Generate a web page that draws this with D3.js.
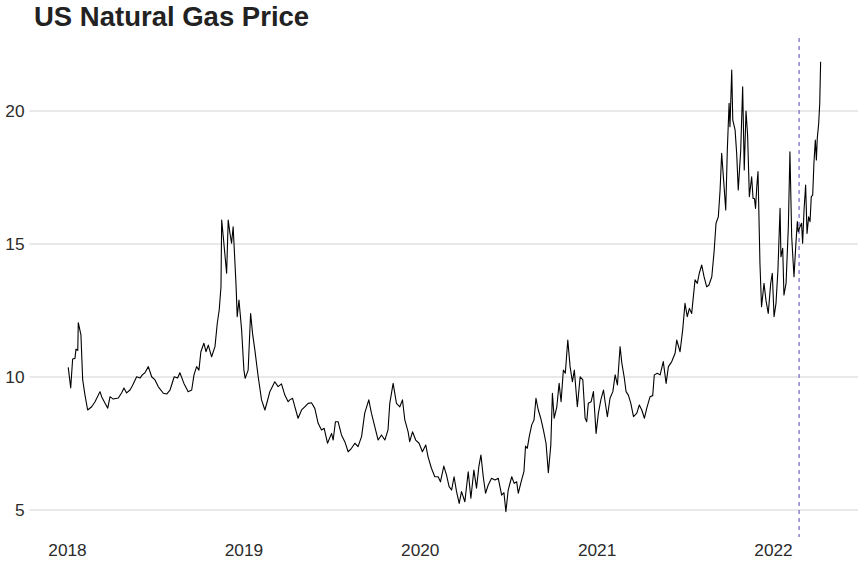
<!DOCTYPE html>
<html>
<head>
<meta charset="utf-8">
<script src="https://cdn.jsdelivr.net/npm/d3@7"></script>
<style>
  body { margin: 0; background: #fff; }
  svg { display: block; font-family: "Liberation Sans", Arial, sans-serif; }
</style>
</head>
<body>
<svg id="chart" width="864" height="576"></svg>
<script>
// time as decimal year, price
var times = [
  2018.007, 2018.021, 2018.032, 2018.045, 2018.051, 2018.061, 2018.064, 2018.079, 2018.089, 2018.102,
  2018.117, 2018.140, 2018.159, 2018.187, 2018.197, 2018.215, 2018.231, 2018.244, 2018.262, 2018.291,
  2018.310, 2018.323, 2018.338, 2018.357, 2018.370, 2018.395, 2018.414, 2018.427, 2018.442, 2018.461,
  2018.480, 2018.499, 2018.517, 2018.546, 2018.565, 2018.584, 2018.608, 2018.627, 2018.640, 2018.663,
  2018.687, 2018.707, 2018.720, 2018.735, 2018.748, 2018.759, 2018.776, 2018.788, 2018.801, 2018.820,
  2018.839, 2018.852, 2018.863, 2018.873, 2018.877, 2018.886, 2018.905, 2018.914, 2018.924, 2018.933,
  2018.942, 2018.958, 2018.965, 2018.975, 2018.980, 2018.990, 2019.003, 2019.010, 2019.027, 2019.041,
  2019.052, 2019.065, 2019.084, 2019.103, 2019.122, 2019.135, 2019.150, 2019.178, 2019.197, 2019.216,
  2019.235, 2019.254, 2019.263, 2019.279, 2019.292, 2019.310, 2019.330, 2019.348, 2019.367, 2019.386,
  2019.405, 2019.424, 2019.443, 2019.458, 2019.477, 2019.500, 2019.509, 2019.522, 2019.537, 2019.556,
  2019.575, 2019.594, 2019.613, 2019.632, 2019.650, 2019.670, 2019.688, 2019.711, 2019.726, 2019.745,
  2019.764, 2019.783, 2019.802, 2019.820, 2019.830, 2019.849, 2019.868, 2019.887, 2019.902, 2019.915,
  2019.934, 2019.943, 2019.959, 2019.977, 2019.996, 2020.015, 2020.034, 2020.047, 2020.066, 2020.085,
  2020.104, 2020.117, 2020.136, 2020.151, 2020.166, 2020.180, 2020.194, 2020.208, 2020.223, 2020.236,
  2020.255, 2020.274, 2020.289, 2020.306, 2020.321, 2020.334, 2020.346, 2020.359, 2020.372, 2020.387,
  2020.406, 2020.425, 2020.444, 2020.463, 2020.476, 2020.487, 2020.500, 2020.520, 2020.534, 2020.548,
  2020.557, 2020.576, 2020.589, 2020.598, 2020.608, 2020.619, 2020.633, 2020.646, 2020.657, 2020.670,
  2020.684, 2020.699, 2020.714, 2020.727, 2020.741, 2020.750, 2020.760, 2020.775, 2020.788, 2020.799,
  2020.812, 2020.823, 2020.837, 2020.850, 2020.863, 2020.874, 2020.891, 2020.907, 2020.922, 2020.935,
  2020.944, 2020.953, 2020.969, 2020.982, 2020.997, 2021.010, 2021.024, 2021.039, 2021.048, 2021.061,
  2021.076, 2021.092, 2021.105, 2021.118, 2021.133, 2021.143, 2021.156, 2021.167, 2021.180, 2021.194,
  2021.209, 2021.228, 2021.242, 2021.256, 2021.271, 2021.284, 2021.303, 2021.318, 2021.327, 2021.344,
  2021.360, 2021.378, 2021.394, 2021.407, 2021.426, 2021.445, 2021.454, 2021.473, 2021.488, 2021.501,
  2021.514, 2021.526, 2021.539, 2021.558, 2021.571, 2021.582, 2021.596, 2021.609, 2021.624, 2021.637,
  2021.653, 2021.666, 2021.677, 2021.690, 2021.700, 2021.709, 2021.718, 2021.732, 2021.741, 2021.751,
  2021.756, 2021.766, 2021.772, 2021.785, 2021.794, 2021.803, 2021.817, 2021.828, 2021.837, 2021.847,
  2021.856, 2021.866, 2021.879, 2021.887, 2021.895, 2021.901, 2021.908, 2021.915, 2021.926, 2021.935,
  2021.949, 2021.960, 2021.973, 2021.987, 2021.996, 2022.006, 2022.017, 2022.028, 2022.040, 2022.045,
  2022.055, 2022.062, 2022.074, 2022.087, 2022.096, 2022.106, 2022.119, 2022.130, 2022.138, 2022.143,
  2022.153, 2022.162, 2022.168, 2022.176, 2022.185, 2022.193, 2022.202, 2022.210, 2022.217, 2022.225,
  2022.232, 2022.240, 2022.246, 2022.251, 2022.259, 2022.265, 2022.270
]
var prices = [
  10.36, 9.59, 10.68, 10.70, 11.05, 11.00, 12.04, 11.58, 9.89, 9.32,
  8.76, 8.88, 9.07, 9.45, 9.25, 9.02, 8.83, 9.26, 9.17, 9.21,
  9.41, 9.59, 9.40, 9.51, 9.66, 10.01, 9.96, 10.08, 10.16, 10.39,
  10.01, 9.89, 9.64, 9.39, 9.36, 9.51, 10.01, 9.96, 10.16, 9.76,
  9.45, 9.51, 10.08, 10.39, 10.26, 10.95, 11.27, 10.95, 11.20, 10.76,
  11.14, 12.02, 12.52, 13.39, 15.90, 15.27, 13.90, 15.90, 15.40, 15.03,
  15.65, 13.52, 12.27, 12.89, 12.52, 11.77, 10.26, 9.95, 10.26, 12.39,
  11.64, 11.02, 10.01, 9.14, 8.76, 9.07, 9.45, 9.82, 9.64, 9.74,
  9.32, 9.07, 9.14, 9.20, 8.88, 8.45, 8.76, 8.88, 9.01, 9.03,
  8.82, 8.26, 8.01, 8.07, 7.51, 7.88, 7.63, 8.32, 8.32, 7.82,
  7.57, 7.19, 7.32, 7.51, 7.38, 7.76, 8.64, 9.14, 8.64, 8.13,
  7.63, 7.82, 7.63, 8.01, 9.01, 9.76, 9.01, 8.88, 9.14, 8.40,
  7.94, 7.57, 7.94, 7.63, 7.51, 7.19, 7.44, 7.00, 6.57, 6.25,
  6.25, 6.06, 6.65, 6.32, 5.88, 5.75, 6.25, 5.69, 5.25, 5.69,
  5.31, 6.44, 5.44, 6.50, 5.82, 6.63, 7.07, 6.25, 5.63, 5.94,
  6.19, 6.13, 6.19, 5.56, 5.65, 4.94, 5.75, 6.25, 6.00, 6.06,
  5.63, 6.13, 6.44, 7.40, 7.32, 7.76, 8.20, 8.38, 9.20, 8.76,
  8.45, 8.01, 7.51, 6.40, 7.44, 9.39, 8.45, 8.88, 9.76, 9.07,
  10.26, 10.14, 11.39, 10.39, 9.82, 10.26, 8.88, 10.01, 9.89, 8.45,
  8.32, 9.01, 9.07, 9.45, 7.88, 8.64, 9.14, 9.51, 9.07, 8.51,
  9.20, 9.45, 10.08, 9.70, 11.14, 10.52, 10.01, 9.45, 9.32, 9.01,
  8.51, 8.64, 8.95, 8.76, 8.45, 8.82, 9.26, 9.30, 10.08, 10.14,
  10.08, 10.58, 9.76, 10.39, 10.58, 10.89, 11.39, 10.95, 11.77, 12.77,
  12.27, 12.58, 12.39, 13.65, 13.52, 13.90, 14.21, 13.77, 13.39, 13.46,
  13.77, 14.71, 15.78, 16.02, 17.03, 18.41, 17.59, 16.28, 18.53, 20.29,
  19.41, 21.54, 19.66, 19.29, 18.41, 17.03, 18.53, 20.91, 17.78, 20.00,
  19.10, 16.78, 17.53, 16.71, 16.71, 16.34, 17.15, 17.72, 14.27, 12.64,
  13.52, 12.89, 12.39, 13.52, 13.90, 12.27, 12.77, 14.02, 16.34, 14.52,
  14.84, 13.08, 13.52, 15.65, 18.47, 15.27, 13.77, 15.03, 15.84, 15.46,
  15.65, 15.78, 15.03, 16.28, 17.22, 15.40, 16.02, 15.84, 16.78, 16.84,
  18.03, 18.91, 18.16, 18.97, 19.53, 20.29, 21.85
]
var yTicks = [5, 10, 15, 20]
var xTickYears = [2018, 2019, 2020, 2021, 2022]
var eventDate = '2022-02-24'
var title = 'US Natural Gas Price'

function toDate(t) {
  var y = Math.floor(t)
  var start = new Date(y, 0, 1), end = new Date(y + 1, 0, 1)
  return new Date(start.getTime() + (t - y) * (end - start))
}

var data = times.map(function(t, i) {
  return { date: toDate(t), price: prices[i] }
})

var svg = d3.select('#chart')

var x = d3.scaleTime()
          .domain([new Date(2018, 0, 1), new Date(2022, 0, 1)])
          .range([67, 773])
var y = d3.scaleLinear()
          .domain([5, 20])
          .range([510, 111])

// grid
svg.append('g')
   .selectAll('line')
   .data(yTicks)
   .enter()
   .append('line')
   .attr('x1', 29.5)
   .attr('x2', 858)
   .attr('y1', function(d) { return y(d) })
   .attr('y2', function(d) { return y(d) })
   .attr('stroke', '#d3d3d3')
   .attr('stroke-width', 1)

// y labels
var yAxis = svg.append('g')
   .attr('transform', 'translate(24.5,0)')
   .call(d3.axisLeft(y).tickValues(yTicks).tickSize(0).tickPadding(0))
yAxis.select('.domain').remove()
yAxis.selectAll('text')
     .attr('font-size', 17.3)
     .attr('fill', '#2b2b2b')
     .attr('font-family', '"Liberation Sans", Arial, sans-serif')

// x labels
var xAxis = svg.append('g')
   .attr('transform', 'translate(0,540)')
   .call(d3.axisBottom(x)
           .tickValues(xTickYears.map(function(yr) { return new Date(yr, 0, 1) }))
           .tickFormat(d3.timeFormat('%Y'))
           .tickSize(0)
           .tickPadding(3.8))
xAxis.select('.domain').remove()
xAxis.selectAll('text')
     .attr('font-size', 17.3)
     .attr('fill', '#2b2b2b')
     .attr('font-family', '"Liberation Sans", Arial, sans-serif')

// event marker
var ev = d3.timeParse('%Y-%m-%d')(eventDate)
svg.append('line')
   .attr('x1', x(ev))
   .attr('x2', x(ev))
   .attr('y1', 38)
   .attr('y2', 537)
   .attr('stroke', '#7b74c4')
   .attr('stroke-width', 1.3)
   .attr('stroke-dasharray', '4,4')

// price line
var line = d3.line()
             .x(function(d) { return x(d.date) })
             .y(function(d) { return y(d.price) })
svg.append('path')
   .datum(data)
   .attr('d', line)
   .attr('fill', 'none')
   .attr('stroke', '#000')
   .attr('stroke-width', 1.1)
   .attr('stroke-linejoin', 'round')

svg.append('text')
   .attr('x', 34)
   .attr('y', 26)
   .attr('font-size', 27.5)
   .attr('font-weight', 'bold')
   .attr('fill', '#222')
   .text(title)
</script>
</body>
</html>
